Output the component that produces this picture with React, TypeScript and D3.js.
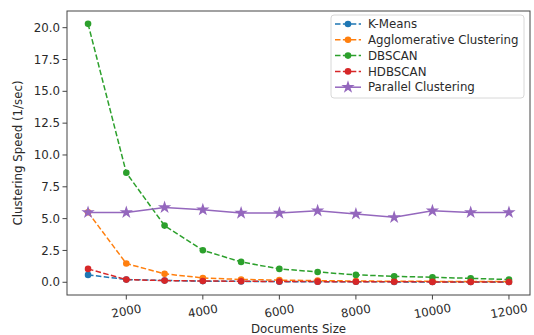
import React from "react";
import * as d3 from "d3";

const docSizes = [1000, 2000, 3000, 4000, 5000, 6000, 7000, 8000, 9000, 10000, 11000, 12000];
const kmeans = [0.58, 0.22, 0.14, 0.09, 0.07, 0.05, 0.04, 0.04, 0.03, 0.03, 0.02, 0.02];
const agglomerative = [5.5, 1.47, 0.66, 0.34, 0.22, 0.17, 0.13, 0.1, 0.08, 0.07, 0.06, 0.05];
const dbscan = [20.3, 8.6, 4.45, 2.51, 1.6, 1.05, 0.81, 0.58, 0.47, 0.39, 0.31, 0.21];
const hdbscan = [1.05, 0.21, 0.13, 0.1, 0.08, 0.06, 0.05, 0.04, 0.04, 0.03, 0.03, 0.02];
const parallel = [5.49, 5.49, 5.88, 5.7, 5.44, 5.44, 5.62, 5.37, 5.1, 5.62, 5.49, 5.49];

const seriesNames = ["K-Means", "Agglomerative Clustering", "DBSCAN", "HDBSCAN", "Parallel Clustering"];
const seriesColors = ["#1f77b4", "#ff7f0e", "#2ca02c", "#d62728", "#9467bd"];
const seriesData = [kmeans, agglomerative, dbscan, hdbscan, parallel];

const xTicks = [2000, 4000, 6000, 8000, 10000, 12000];
const yTicks = [0, 2.5, 5, 7.5, 10, 12.5, 15, 17.5, 20];

const W = 534, H = 335;
const L = 67, R = 530, T = 11, B = 295;

export default function App() {
  const x = d3.scaleLinear().domain([450, 12550]).range([L, R]);
  const y = d3.scaleLinear().domain([-1.0, 21.31]).range([B, T]);
  const line = d3.line<number>().x((_, i) => x(docSizes[i])).y((d) => y(d));
  const star = d3.symbol().type(d3.symbolStar).size(55)();
  const font = "DejaVu Sans, sans-serif";
  const textColor = "#2a2a2a";
  const fs = 11.8;

  return (
    <svg width={W} height={H} style={{ position: "absolute", left: 0, top: 0 }} fontFamily={font}>
      <rect width={W} height={H} fill="#fff" />
      {seriesData.map((data, si) => {
        const c = seriesColors[si];
        const isStar = si === 4;
        return (
          <g key={si}>
            <path
              d={line(data) || ""}
              fill="none"
              stroke={c}
              strokeWidth={1.5}
              strokeDasharray={isStar ? undefined : "5.5,2.4"}
            />
            {data.map((v, i) =>
              isStar ? (
                <path key={i} d={star} transform={`translate(${x(docSizes[i])},${y(v)})`} fill={c} />
              ) : (
                <circle key={i} cx={x(docSizes[i])} cy={y(v)} r={3.3} fill={c} />
              )
            )}
          </g>
        );
      })}
      <rect x={L} y={T} width={R - L} height={B - T} fill="none" stroke="#444" strokeWidth={1} />
      {yTicks.map((t) => (
        <g key={t}>
          <line x1={L - 4.5} x2={L} y1={y(t)} y2={y(t)} stroke="#444" />
          <text x={L - 7} y={y(t)} dy="0.35em" textAnchor="end" fontSize={fs} fill={textColor}>
            {t.toFixed(1)}
          </text>
        </g>
      ))}
      {xTicks.map((t) => (
        <g key={t}>
          <line x1={x(t)} x2={x(t)} y1={B} y2={B + 4.5} stroke="#444" />
          <text
            transform={`translate(${x(t)},${B + 16}) rotate(-10)`}
            textAnchor="middle"
            dy="0.35em"
            fontSize={fs}
            fill={textColor}
          >
            {t}
          </text>
        </g>
      ))}
      <text x={(L + R) / 2} y={B + 38} textAnchor="middle" fontSize={fs} fill={textColor}>
        Documents Size
      </text>
      <text
        transform={`translate(18,${(T + B) / 2}) rotate(-90)`}
        textAnchor="middle"
        dy="0.35em"
        fontSize={fs}
        fill={textColor}
      >
        Clustering Speed (1/sec)
      </text>
      <g>
        <rect x={331} y={15} width={193} height={83} rx={3} fill="#fff" fillOpacity={0.85} stroke="#d8d8d8" />
        {seriesNames.map((n, i) => {
          const ly = 24 + i * 15.8;
          const c = seriesColors[i];
          return (
            <g key={n}>
              <line x1={335} x2={361} y1={ly} y2={ly} stroke={c} strokeWidth={1.5} strokeDasharray={i === 4 ? undefined : "5.5,2.4"} />
              {i === 4 ? (
                <path d={star} transform={`translate(348,${ly})`} fill={c} />
              ) : (
                <circle cx={348} cy={ly} r={3.3} fill={c} />
              )}
              <text x={368} y={ly} dy="0.35em" fontSize={fs} fill={textColor}>
                {n}
              </text>
            </g>
          );
        })}
      </g>
    </svg>
  );
}
